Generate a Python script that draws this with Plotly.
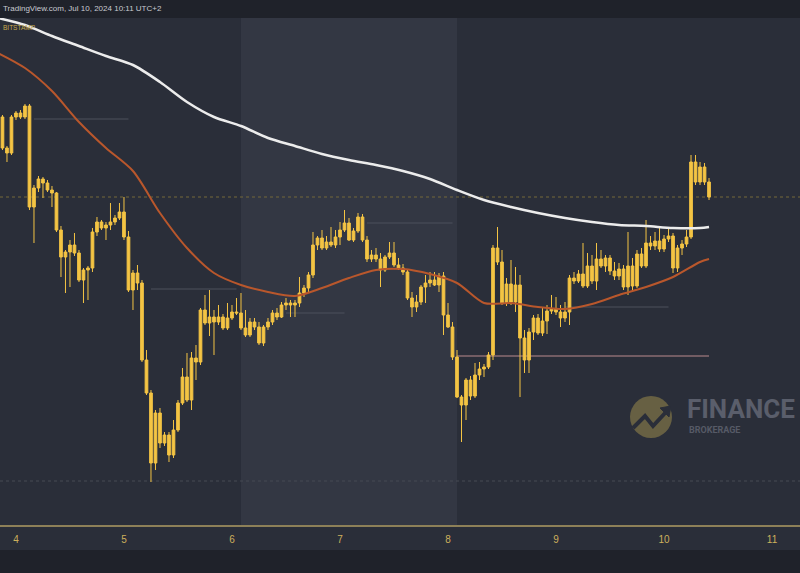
import pandas as pd
import plotly.graph_objects as go

# ---------------------------------------------------------------------------
# BTC/USD (Bitstamp) hourly bars, Jul 3 20:00 -> Jul 10 10:00 (UTC+2)
# ---------------------------------------------------------------------------
first_hour = -4                      # hours relative to Jul 4 00:00
base_day = pd.Timestamp("2024-07-04 00:00")

bar_open = [
    60800, 60660, 60040, 59940, 60660, 60740, 60660, 60880, 58860, 59240,
    59420, 59340, 59200, 59140, 58400, 57860, 57960, 58100, 57940, 57400,
    57600, 57640, 58360, 58560, 58440, 58500, 58560, 58640, 58760, 58260,
    57200, 57540, 57340, 55800, 55140, 53740, 54740, 54140, 54300, 53900,
    54400, 54940, 55460, 55000, 55840, 55760, 56800, 56540, 56660, 56560,
    56660, 56440, 56640, 56760, 56740, 56440, 56300, 56560, 56460, 56140,
    56460, 56560, 56740, 56660, 56900, 56940, 56900, 56940, 57140, 57240,
    57500, 58100, 58240, 58040, 58160, 58100, 58260, 58400, 58540, 58200,
    58380, 58660, 58200, 57820, 57900, 57820, 57600, 57860, 57940, 57700,
    57640, 57560, 57040, 56860, 56960, 57260, 57340, 57400, 57300, 57480,
    56700, 56460, 55860, 55060, 54900, 55400, 55080, 55500, 55620, 55660,
    55900, 58040, 57760, 56940, 57320, 56960, 57300, 56240, 55800, 56360,
    56640, 56340, 56580, 56780, 56820, 56760, 56640, 56760, 57440, 57380,
    57520, 57280, 57680, 57380, 57820, 57680, 57840, 57580, 57480, 57620,
    57260, 57680, 57280, 57920, 57680, 58140, 58080, 58180, 58020, 58220,
    58280, 57640, 58040, 58120, 58260, 59760, 59360, 59660, 59360,
]
bar_high = [
    60840, 60700, 60080, 60700, 60780, 60800, 60920, 60920, 59300, 59480,
    59460, 59400, 59280, 59160, 58480, 58000, 58200, 58340, 58000, 57640,
    57680, 58440, 58660, 58600, 58560, 58940, 58700, 58940, 59060, 58380,
    57600, 57700, 57400, 56000, 55200, 54800, 54840, 54360, 54360, 54600,
    55000, 55640, 55940, 55960, 56100, 56840, 57100, 57200, 56800, 56900,
    56720, 56940, 56900, 57040, 57140, 56800, 56640, 56640, 56560, 56500,
    56640, 56800, 56840, 56960, 57040, 57000, 57000, 57460, 57300, 57560,
    58360, 58280, 58400, 58280, 58460, 58400, 58560, 58800, 58640, 58440,
    58740, 58720, 58280, 58000, 58040, 57940, 57900, 58160, 58160, 57840,
    57720, 57600, 57160, 57100, 57300, 57500, 57560, 57560, 57540, 57560,
    56940, 56560, 56000, 55100, 55440, 55480, 55740, 55760, 55720, 55960,
    58100, 58460, 58000, 57440, 57800, 57660, 57500, 56400, 56440, 56700,
    56720, 56860, 56900, 57100, 57060, 56900, 56960, 57500, 57560, 57600,
    58140, 57940, 57900, 58140, 58000, 57900, 57900, 57760, 57740, 57700,
    58360, 57840, 58000, 58040, 58600, 58280, 58360, 58440, 58300, 58440,
    58340, 58100, 58200, 58400, 59900, 59900, 59760, 59740, 59440,
]
bar_low = [
    60620, 60000, 59760, 59900, 60600, 60620, 60620, 58800, 58140, 59160,
    59040, 59160, 58860, 58360, 57460, 57140, 57260, 57880, 57360, 56940,
    57000, 57560, 58280, 58400, 58200, 58400, 58500, 58600, 58200, 57160,
    56800, 57200, 55760, 55100, 53360, 53600, 54040, 54080, 53760, 53840,
    54360, 54900, 54960, 54800, 55400, 55700, 56500, 56280, 55900, 56500,
    56400, 56400, 56600, 56700, 56400, 56260, 56260, 56400, 56100, 56080,
    56400, 56500, 56600, 56640, 56800, 56660, 56660, 56860, 57060, 57160,
    57440, 58000, 58000, 58000, 58060, 58040, 58100, 58360, 58180, 58160,
    58340, 58160, 57760, 57760, 57760, 57260, 57560, 57820, 57660, 57600,
    57500, 57000, 56660, 56760, 56900, 56940, 57260, 57280, 57160, 56300,
    56440, 55800, 55040, 54160, 54600, 55000, 55040, 55400, 55460, 55620,
    55800, 57700, 56900, 56880, 56900, 56760, 55060, 55540, 55540, 56200,
    56300, 56280, 56320, 56720, 56700, 56460, 56560, 56500, 57320, 57340,
    57240, 57240, 57320, 57200, 57640, 57560, 57500, 57400, 57400, 57200,
    57100, 57200, 57240, 57640, 57640, 58000, 58000, 57960, 57960, 58160,
    57540, 57560, 57900, 58060, 58220, 59300, 59300, 59300, 59000,
]
bar_close = [
    60660, 60040, 59940, 60660, 60740, 60660, 60880, 58860, 59240, 59420,
    59340, 59200, 59140, 58400, 57860, 57960, 58100, 57940, 57400, 57600,
    57640, 58360, 58560, 58440, 58500, 58560, 58640, 58760, 58260, 57200,
    57540, 57340, 55800, 55140, 53740, 54740, 54140, 54300, 53900, 54400,
    54940, 55460, 55000, 55840, 55760, 56800, 56540, 56660, 56560, 56660,
    56440, 56640, 56760, 56740, 56440, 56300, 56560, 56460, 56140, 56460,
    56560, 56740, 56660, 56900, 56940, 56900, 56940, 57140, 57240, 57500,
    58100, 58240, 58040, 58160, 58100, 58260, 58400, 58540, 58200, 58380,
    58660, 58200, 57820, 57900, 57820, 57600, 57860, 57940, 57700, 57640,
    57560, 57040, 56860, 56960, 57260, 57340, 57400, 57300, 57480, 56700,
    56460, 55860, 55060, 54900, 55400, 55080, 55500, 55620, 55660, 55900,
    58040, 57760, 56940, 57320, 56960, 57300, 56240, 55800, 56360, 56640,
    56340, 56580, 56780, 56820, 56760, 56640, 56760, 57440, 57380, 57520,
    57280, 57680, 57380, 57820, 57680, 57840, 57580, 57480, 57620, 57260,
    57680, 57280, 57920, 57680, 58140, 58080, 58180, 58020, 58220, 58280,
    57640, 58040, 58120, 58260, 59760, 59360, 59660, 59360, 59060,
]

# Moving averages sampled every 6 hours (last point at the final bar)
ma_hours = [-4, 2, 8, 14, 20, 26, 32, 38, 44, 50, 56, 62, 68, 74, 80, 86,
            92, 98, 104, 110, 116, 122, 128, 134, 140, 146, 152, 154]
ma_slow = [62640, 62500, 62280, 62080, 61880, 61700, 61360, 60960, 60660,
           60480, 60240, 60080, 59920, 59800, 59700, 59580, 59420, 59200,
           59000, 58860, 58740, 58640, 58560, 58500, 58480, 58440, 58440,
           58460]
ma_fast = [61940, 61640, 61180, 60560, 60040, 59580, 58740, 58040, 57540,
           57300, 57160, 57080, 57240, 57440, 57600, 57620, 57520, 57340,
           56940, 56940, 56860, 56820, 56920, 57100, 57260, 57460, 57760,
           57820]

# Horizontal levels: price, start, end
level_price = [60620, 57220, 56740, 58540, 56860]
level_start = ["2024-07-04 04:00", "2024-07-05 06:00", "2024-07-06 12:00",
               "2024-07-07 06:00", "2024-07-09 02:00"]
level_end = ["2024-07-05 01:00", "2024-07-06 01:00", "2024-07-07 01:00",
             "2024-07-08 01:00", "2024-07-10 01:00"]
support_price = 55880
support_span = ["2024-07-08 02:00", "2024-07-10 10:00"]
last_price = 59060
low_mark = 53380

# Weekend session shading
weekend = ["2024-07-06 02:00", "2024-07-08 02:00"]

day_ticks = [f"2024-07-{d:02d}" for d in range(4, 12)]
day_labels = [str(d) for d in range(4, 12)]

x_range = ["2024-07-03 20:27", "2024-07-11 06:13"]
y_range = [52500, 62640]

bar_time = [base_day + pd.Timedelta(hours=first_hour + i) for i in range(len(bar_close))]
ma_time = [base_day + pd.Timedelta(hours=h) for h in ma_hours]

BG = "#2a2e39"
BAND = "#333743"
DARK = "#1f222a"
CANDLE = "#f4c444"

W, H = 800, 573
M_T, M_B = 18, 48
PLOT_H = H - M_T - M_B


def px(xp):
    return xp / W


def py(yp):
    return (H - M_B - yp) / PLOT_H


fig = go.Figure()

fig.add_trace(go.Candlestick(
    x=bar_time, open=bar_open, high=bar_high, low=bar_low, close=bar_close,
    increasing=dict(line=dict(color=CANDLE, width=1), fillcolor=CANDLE),
    decreasing=dict(line=dict(color=CANDLE, width=1), fillcolor=CANDLE),
    whiskerwidth=0, hoverinfo="skip", showlegend=False,
))

fig.add_trace(go.Scatter(
    x=ma_time, y=ma_fast, mode="lines",
    line=dict(color="#b9572c", width=2, shape="spline", smoothing=0.8),
    hoverinfo="skip", showlegend=False,
))
fig.add_trace(go.Scatter(
    x=ma_time, y=ma_slow, mode="lines",
    line=dict(color="#ececec", width=2.5, shape="spline", smoothing=0.8),
    hoverinfo="skip", showlegend=False,
))

shapes = []
# weekend band
shapes.append(dict(type="rect", xref="x", yref="paper", x0=weekend[0], x1=weekend[1],
                   y0=0, y1=1, fillcolor=BAND, line=dict(width=0), layer="below"))
# strip under the plot holding the date labels
shapes.append(dict(type="rect", xref="paper", yref="paper", x0=0, x1=1,
                   y0=py(550), y1=0, fillcolor=BG, line=dict(width=0), layer="below"))
# level lines
for p, a, b in zip(level_price, level_start, level_end):
    shapes.append(dict(type="line", xref="x", yref="y", x0=a, x1=b, y0=p, y1=p,
                       line=dict(color="#4c515d", width=1), layer="below"))
shapes.append(dict(type="line", xref="x", yref="y", x0=support_span[0], x1=support_span[1],
                   y0=support_price, y1=support_price,
                   line=dict(color="#8b6c72", width=1.5), layer="below"))
shapes.append(dict(type="line", xref="paper", yref="y", x0=0, x1=1,
                   y0=last_price, y1=last_price,
                   line=dict(color="#75683a", width=1, dash="dot"), layer="below"))
shapes.append(dict(type="line", xref="paper", yref="y", x0=0, x1=1,
                   y0=low_mark, y1=low_mark,
                   line=dict(color="#464a55", width=1, dash="dot"), layer="below"))

# brand mark: gold disc with a rising zig-zag
shapes.append(dict(type="circle", xref="paper", yref="paper",
                   x0=px(630), x1=px(672), y0=py(438), y1=py(396),
                   fillcolor="#676043", line=dict(width=0), layer="below"))
zig = [(633, 428), (645, 416), (653, 426), (667, 411)]
path = "M " + " L ".join(f"{px(a):.5f},{py(b):.5f}" for a, b in zig)
shapes.append(dict(type="path", xref="paper", yref="paper", path=path,
                   line=dict(color=BG, width=4), layer="below"))
head = [(660, 408), (671, 406), (669, 417)]
path_h = "M " + " L ".join(f"{px(a):.5f},{py(b):.5f}" for a, b in head) + " Z"
shapes.append(dict(type="path", xref="paper", yref="paper", path=path_h,
                   fillcolor=BG, line=dict(color=BG, width=1), layer="below"))

annotations = [
    dict(text="TradingView.com, Jul 10, 2024 10:11 UTC+2", xref="paper", yref="paper",
         x=px(1), y=py(9), xanchor="left", yanchor="middle", showarrow=False,
         font=dict(family="Liberation Sans", size=8, color="#c8cad0")),
    dict(text="BITSTAMP", xref="paper", yref="paper", x=px(1), y=py(28),
         xanchor="left", yanchor="middle", showarrow=False,
         font=dict(family="Liberation Sans", size=6.5, color="#c7a94c")),
    dict(text="<b>FINANCE</b>", xref="paper", yref="paper", x=px(685), y=py(409),
         xanchor="left", yanchor="middle", showarrow=False,
         font=dict(family="Roboto", size=26, color="#5a5e6b")),
    dict(text="<b>BROKERAGE</b>", xref="paper", yref="paper", x=px(687), y=py(430),
         xanchor="left", yanchor="middle", showarrow=False,
         font=dict(family="Roboto", size=9, color="#565a66")),
]

fig.update_layout(
    width=W, height=H,
    margin=dict(l=0, r=0, t=M_T, b=M_B, pad=0),
    paper_bgcolor=DARK, plot_bgcolor=BG,
    shapes=shapes, annotations=annotations,
    showlegend=False, hovermode=False,
    boxgap=0.15,
)
fig.update_xaxes(
    type="date", range=x_range, rangeslider_visible=False,
    tickvals=day_ticks, ticktext=day_labels, ticks="",
    tickfont=dict(family="Liberation Sans", size=10, color="#cdb05c"),
    showgrid=False, zeroline=False,
    showline=True, linecolor="#8d8058", linewidth=2,
    ticklabelstandoff=4,
)
fig.update_yaxes(range=y_range, visible=False, showgrid=False, zeroline=False)

fig.write_html("out.html")
